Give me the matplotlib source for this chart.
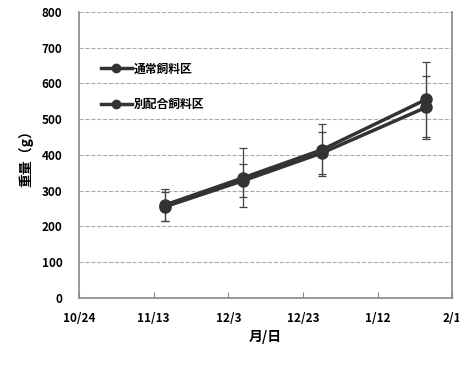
import matplotlib.pyplot as plt
import matplotlib.dates as mdates
from matplotlib.lines import Line2D
from datetime import date

plt.rcParams['font.family'] = ['Noto Sans CJK JP', 'DejaVu Sans']

dates = [date(2012, 11, 16), date(2012, 12, 7), date(2012, 12, 28), date(2013, 1, 25)]
normal = [260, 336, 414, 555]
normal_err = [45, 83, 73, 105]
mixed = [255, 328, 405, 533]
mixed_err = [40, 47, 59, 88]
labels = ['通常飼料区', '別配合飼料区']

tick_dates = [date(2012, 10, 24), date(2012, 11, 13), date(2012, 12, 3),
              date(2012, 12, 23), date(2013, 1, 12), date(2013, 2, 1)]

fig = plt.figure(figsize=(4.6, 3.82), dpi=100)
ax = fig.add_axes([0.172, 0.22, 0.811, 0.749])

col = '#333333'
for vals, errs in [(normal, normal_err), (mixed, mixed_err)]:
    ax.errorbar(dates, vals, yerr=errs, color=col, lw=2.5, marker='o', ms=8,
                ecolor='#444444', elinewidth=0.9, capsize=3, capthick=0.9)

ax.set_ylim(0, 800)
ax.set_yticks(range(0, 801, 100))
ax.set_xlim(tick_dates[0], tick_dates[-1])
ax.set_xticks(tick_dates)
ax.xaxis.set_major_formatter(mdates.DateFormatter('%-m/%-d'))
ax.grid(axis='y', ls='--', color='#aaaaaa', lw=0.8)
ax.set_axisbelow(True)
for s in ['left', 'bottom', 'right']:
    ax.spines[s].set_color('#888888')
    ax.spines[s].set_linewidth(1.2)
ax.spines['top'].set_visible(False)
ax.tick_params(axis='x', direction='in', length=4, color='#888888', pad=10)
ax.tick_params(axis='y', length=0, pad=12)
for t in ax.get_xticklabels() + ax.get_yticklabels():
    t.set_fontweight('bold')
    t.set_fontsize(8.5)

ax.set_xlabel('月/日', fontsize=10, fontweight='bold', labelpad=4)
ax.set_ylabel('重量（g）', fontsize=10, fontweight='bold', labelpad=6)

handles = [Line2D([], [], color=col, lw=2.5, marker='o', ms=6) for _ in labels]
leg = ax.legend(handles, labels, loc='upper left', bbox_to_anchor=(0.03, 0.86),
                frameon=False, fontsize=8.5, labelspacing=1.9, handlelength=2.6,
                handletextpad=0.2)
for t in leg.get_texts():
    t.set_fontweight('bold')

fig.savefig('out.png', dpi=100)
